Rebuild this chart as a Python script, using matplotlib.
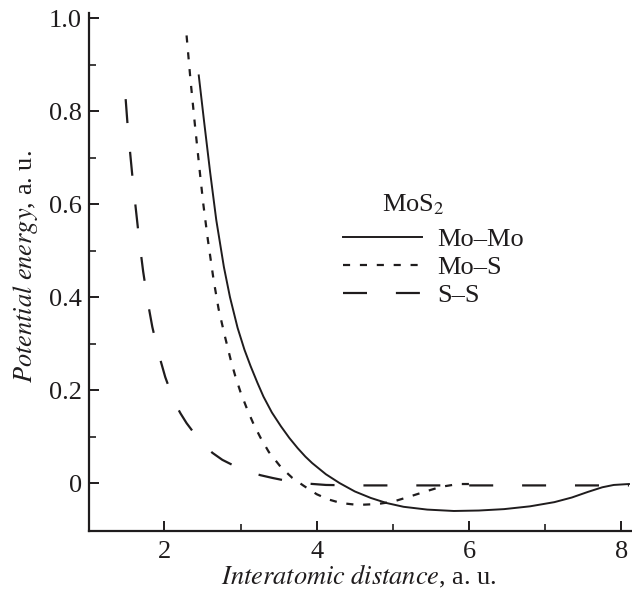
import matplotlib
matplotlib.use("Agg")
import matplotlib.pyplot as plt
from matplotlib.ticker import MultipleLocator, FixedLocator, FuncFormatter

plt.rcParams['font.family'] = 'Liberation Serif'
plt.rcParams['mathtext.fontset'] = 'stix'

# curves (x in a.u., energy in a.u.)
mo_mo_x = [2.45, 2.52, 2.60, 2.68, 2.78, 2.86, 2.96, 3.05, 3.13, 3.22, 3.30, 3.41, 3.53,
           3.64, 3.75, 3.85, 3.94, 4.12, 4.30, 4.50, 4.71, 4.92, 5.14, 5.45, 5.80, 6.13,
           6.46, 6.80, 7.12, 7.35, 7.56, 7.75, 7.90, 8.10]
mo_mo_y = [0.877, 0.778, 0.668, 0.566, 0.465, 0.400, 0.334, 0.287, 0.252, 0.216, 0.186,
           0.152, 0.122, 0.097, 0.075, 0.057, 0.043, 0.019, 0.0, -0.018, -0.032, -0.043,
           -0.051, -0.057, -0.060, -0.059, -0.056, -0.050, -0.041, -0.031, -0.019, -0.009,
           -0.004, -0.002]

mo_s_x = [2.29, 2.34, 2.40, 2.47, 2.51, 2.57, 2.645, 2.71, 2.79, 2.87, 2.93, 3.00, 3.09,
          3.17, 3.26, 3.37, 3.53, 3.68, 3.83, 4.00, 4.15, 4.32, 4.54, 4.80, 5.00, 5.20,
          5.41, 5.63, 5.86, 6.00]
mo_s_y = [0.963, 0.870, 0.770, 0.660, 0.600, 0.523, 0.437, 0.375, 0.318, 0.265, 0.230,
          0.195, 0.157, 0.127, 0.098, 0.067, 0.034, 0.011, -0.006, -0.024, -0.035, -0.043,
          -0.047, -0.045, -0.040, -0.030, -0.019, -0.008, -0.002, -0.002]

s_s_x = [1.49, 1.52, 1.555, 1.59, 1.63, 1.67, 1.72, 1.78, 1.84, 1.92, 2.01, 2.13, 2.21,
         2.29, 2.40, 2.51, 2.63, 2.76, 2.93, 3.10, 3.26, 3.42, 3.60, 3.79, 4.12, 4.50,
         6.00, 8.10]
s_s_y = [0.826, 0.760, 0.700, 0.640, 0.580, 0.520, 0.455, 0.390, 0.336, 0.280, 0.228,
         0.174, 0.150, 0.129, 0.105, 0.083, 0.065, 0.050, 0.036, 0.025, 0.017, 0.011,
         0.005, 0.0, -0.004, -0.005, -0.005, -0.005]

labels = ['Mo–Mo', 'Mo–S', 'S–S']
ink = '#1f1c1d'

fig = plt.figure(figsize=(6.32, 5.97), dpi=100)
ax = fig.add_axes([0.141, 0.1106, 0.859, 0.8674])

ax.plot(mo_mo_x, mo_mo_y, color=ink, lw=1.4, label=labels[0])
ax.plot(mo_s_x, mo_s_y, color=ink, lw=1.6, dashes=(3.2, 4.4), label=labels[1])
ax.plot(s_s_x, s_s_y, color=ink, lw=1.6, dashes=(10.8, 13.0), label=labels[2])

ax.set_xlim(1.01, 8.14)
ax.set_ylim(-0.103, 1.011)

for side in ['top', 'right']:
    ax.spines[side].set_visible(False)
for side in ['left', 'bottom']:
    ax.spines[side].set_linewidth(1.6)
    ax.spines[side].set_color(ink)

ax.xaxis.set_major_locator(MultipleLocator(2))
ax.xaxis.set_minor_locator(MultipleLocator(1))
ax.yaxis.set_major_locator(MultipleLocator(0.2))
ax.yaxis.set_minor_locator(FixedLocator([0.1, 0.3, 0.5, 0.7, 0.9]))
ax.yaxis.set_major_formatter(FuncFormatter(lambda v, p: '0' if abs(v) < 1e-9 else f'{v:.1f}'))
ax.xaxis.set_major_formatter(FuncFormatter(lambda v, p: f'{v:.0f}'))

ax.tick_params(which='major', direction='in', length=7, width=1.4, labelsize=19, pad=5,
               color=ink, labelcolor=ink)
ax.tick_params(which='minor', direction='in', length=5, width=1.2, color=ink)
ax.tick_params(axis='x', which='major', pad=7)

ax.set_xlabel(r'$\it{Interatomic\ distance}$, a. u.', fontsize=19, color=ink)
ax.set_ylabel(r'$\it{Potential\ energy}$, a. u.', fontsize=19, color=ink)
ax.xaxis.set_label_coords(0.496, -0.062)
ax.yaxis.set_label_coords(-0.090, 0.51)

ax.text(382 / 632, 1 - 205 / 597, 'MoS$_2$', transform=fig.transFigure, fontsize=19,
        va='center', ha='left', color=ink)
leg = ax.legend(loc='upper left', bbox_to_anchor=(0.543, 1 - 228 / 597),
                bbox_transform=fig.transFigure, frameon=False, fontsize=19,
                handlelength=3.0, handletextpad=0.55, labelspacing=0.17, borderpad=0,
                borderaxespad=0)
for t in leg.get_texts():
    t.set_color(ink)

fig.savefig('out.png', dpi=100)
